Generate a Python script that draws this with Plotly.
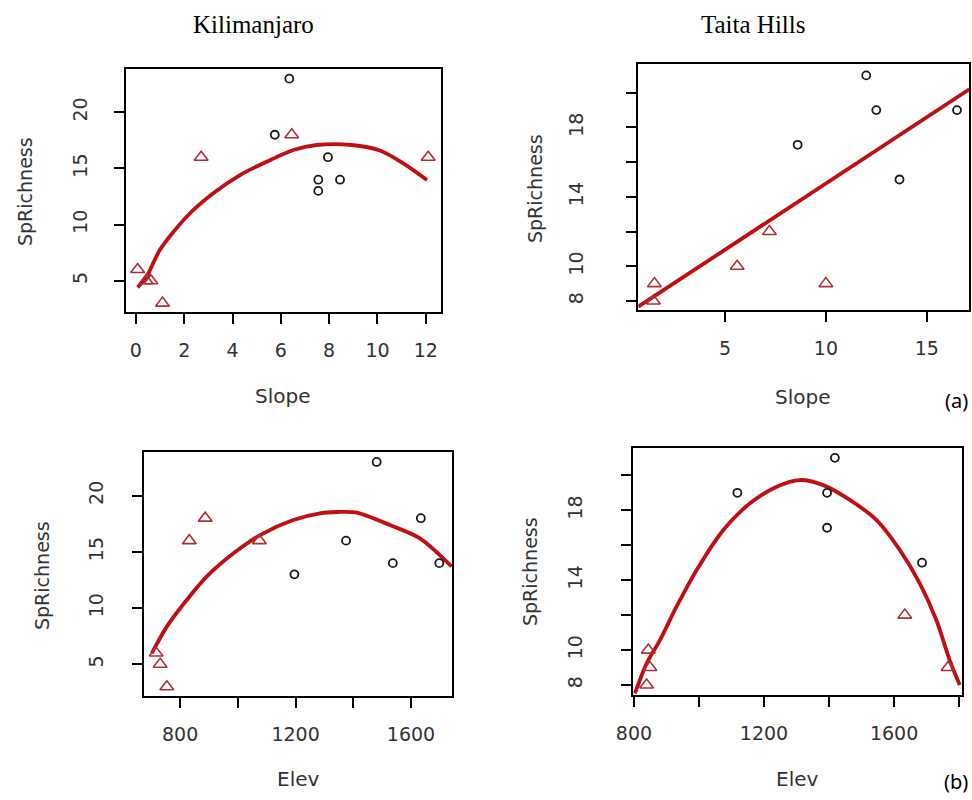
import plotly.graph_objects as go

W, H = 972, 800

# ---------------- data ----------------
# Kilimanjaro – Slope
kili_slope_circ_x = [6.35, 5.75, 7.95, 7.55, 7.55, 8.45]
kili_slope_circ_y = [23, 18, 16, 14, 13, 14]
kili_slope_tri_x = [6.45, 2.7, 0.07, 0.42, 0.62, 1.1, 12.1]
kili_slope_tri_y = [18, 16, 6, 5, 5, 3, 16]
kili_slope_fit_x = [0.07, 0.44, 0.99, 2.1, 3.2, 4.31, 5.41, 6.52, 7.48, 8.93, 10.1, 11.07, 12.05]
kili_slope_fit_y = [4.4, 5.35, 7.73, 10.7, 12.78, 14.41, 15.6, 16.64, 17.09, 17.09, 16.6, 15.45, 13.97]

# Taita Hills – Slope
taita_slope_circ_x = [12.0, 12.5, 16.5, 8.6, 13.65]
taita_slope_circ_y = [21, 19, 19, 17, 15]
taita_slope_tri_x = [7.2, 5.6, 10.0, 1.5, 1.45]
taita_slope_tri_y = [12, 10, 9, 9, 8]
taita_slope_fit_x = [0.7, 17.11]
taita_slope_fit_y = [7.67, 20.2]

# Kilimanjaro – Elev
kili_elev_circ_x = [1196, 1375, 1481, 1537, 1634, 1698]
kili_elev_circ_y = [13, 16, 23, 14, 18, 14]
kili_elev_tri_x = [717, 731, 754, 832, 887, 1075]
kili_elev_tri_y = [6, 5, 3, 16, 18, 16]
kili_elev_fit_x = [702, 754, 823, 892, 985, 1077, 1192, 1285, 1345, 1412, 1527, 1631, 1741]
kili_elev_fit_y = [5.98, 8.35, 10.72, 12.8, 14.87, 16.5, 17.84, 18.43, 18.55, 18.5, 17.39, 16.2, 13.7]

# Taita Hills – Elev
taita_elev_circ_x = [1418, 1118, 1394, 1394, 1686]
taita_elev_circ_y = [21, 19, 19, 17, 15]
taita_elev_tri_x = [1633, 844, 849, 839, 1766]
taita_elev_tri_y = [12, 10, 9, 8, 9]
taita_elev_fit_x = [803, 839, 880, 931, 993, 1075, 1157, 1239, 1310, 1382, 1464, 1546, 1618, 1679, 1730, 1771, 1802]
taita_elev_fit_y = [7.52, 9.24, 10.57, 12.48, 14.58, 16.87, 18.4, 19.35, 19.73, 19.44, 18.59, 17.44, 15.72, 13.82, 11.72, 9.43, 8.0]

# ticks
slope_k_ticks = [0, 2, 4, 6, 8, 10, 12]
slope_k_text = ["0", "2", "4", "6", "8", "10", "12"]
slope_t_ticks = [5, 10, 15]
slope_t_text = ["5", "10", "15"]
elev_k_ticks = [800, 1000, 1200, 1400, 1600]
elev_k_text = ["800", "", "1200", "", "1600"]
elev_t_ticks = [800, 1000, 1200, 1400, 1600, 1800]
elev_t_text = ["800", "", "1200", "", "1600", ""]
rich_k_ticks = [5, 10, 15, 20]
rich_k_text = ["5", "10", "15", "20"]
rich_t_ticks = [8, 10, 12, 14, 16, 18, 20]
rich_t_text = ["8", "10", "", "14", "", "18", ""]

# ---------------- style ----------------
CIRC_COL = "#1a1a1a"
TRI_COL = "#ad3038"
FIT_COL = "#c00f12"
TXT_COL = "#333333"
FONT = "DejaVu Sans"


def px_dom(a, b, total):
    return [a / total, b / total]


def ydom(top, bottom):
    return [1 - bottom / H, 1 - top / H]


panels = [
    dict(xd=px_dom(126, 441, W), yd=ydom(69, 312), xr=[-0.41, 12.63], yr=[2.21, 23.86],
         xt=(slope_k_ticks, slope_k_text), yt=(rich_k_ticks, rich_k_text), ystand=19,
         cx=kili_slope_circ_x, cy=kili_slope_circ_y, tx=kili_slope_tri_x, ty=kili_slope_tri_y,
         fx=kili_slope_fit_x, fy=kili_slope_fit_y, shape="spline"),
    dict(xd=px_dom(638.3, 969.3, W), yd=ydom(64.3, 310), xr=[0.70, 17.11], yr=[7.48, 21.64],
         xt=(slope_t_ticks, slope_t_text), yt=(rich_t_ticks, rich_t_text), ystand=36,
         cx=taita_slope_circ_x, cy=taita_slope_circ_y, tx=taita_slope_tri_x, ty=taita_slope_tri_y,
         fx=taita_slope_fit_x, fy=taita_slope_fit_y, shape="linear"),
    dict(xd=px_dom(144, 452, W), yd=ydom(452.3, 696), xr=[675, 1742], yr=[2.18, 23.86],
         xt=(elev_k_ticks, elev_k_text), yt=(rich_k_ticks, rich_k_text), ystand=21,
         cx=kili_elev_circ_x, cy=kili_elev_circ_y, tx=kili_elev_tri_x, ty=kili_elev_tri_y,
         fx=kili_elev_fit_x, fy=kili_elev_fit_y, shape="spline"),
    dict(xd=px_dom(633.3, 961.7, W), yd=ydom(447.7, 695), xr=[798, 1808], yr=[7.43, 21.58],
         xt=(elev_t_ticks, elev_t_text), yt=(rich_t_ticks, rich_t_text), ystand=32,
         cx=taita_elev_circ_x, cy=taita_elev_circ_y, tx=taita_elev_tri_x, ty=taita_elev_tri_y,
         fx=taita_elev_fit_x, fy=taita_elev_fit_y, shape="spline"),
]

fig = go.Figure()
layout = dict(width=W, height=H, margin=dict(l=0, r=0, t=0, b=0, pad=0), autosize=False,
              paper_bgcolor="white", plot_bgcolor="white", showlegend=False)

for i, p in enumerate(panels, start=1):
    xa = "x" if i == 1 else f"x{i}"
    ya = "y" if i == 1 else f"y{i}"
    fig.add_trace(go.Scatter(x=p["fx"], y=p["fy"], mode="lines", xaxis=xa, yaxis=ya,
                             line=dict(color=FIT_COL, width=3.8, shape=p["shape"], smoothing=0.8)))
    fig.add_trace(go.Scatter(x=p["cx"], y=p["cy"], mode="markers", xaxis=xa, yaxis=ya,
                             marker=dict(symbol="circle-open", size=8, color=CIRC_COL,
                                         line=dict(width=1.8, color=CIRC_COL))))
    fig.add_trace(go.Scatter(x=p["tx"], y=p["ty"], mode="markers", xaxis=xa, yaxis=ya,
                             marker=dict(symbol="triangle-up-open", size=12, color=TRI_COL,
                                         line=dict(width=1.6, color=TRI_COL))))
    common = dict(showgrid=False, zeroline=False, showline=True, mirror=True,
                  linecolor="black", linewidth=2, ticks="outside", ticklen=10,
                  tickwidth=2, tickcolor="black", automargin=False,
                  tickfont=dict(family=FONT, size=19, color=TXT_COL))
    layout["xaxis" if i == 1 else f"xaxis{i}"] = dict(
        domain=p["xd"], range=p["xr"], anchor=ya, tickmode="array",
        tickvals=p["xt"][0], ticktext=p["xt"][1], ticklabelstandoff=10, **common)
    layout["yaxis" if i == 1 else f"yaxis{i}"] = dict(
        domain=p["yd"], range=p["yr"], anchor=xa, tickmode="array",
        tickvals=p["yt"][0], ticktext=p["yt"][1], tickangle=-90,
        ticklabelstandoff=p["ystand"], **common)

fig.update_layout(**layout)

ann = []


def add_text(text, x, y, size, family=FONT, color=TXT_COL, angle=0):
    ann.append(dict(text=text, x=x / W, y=1 - y / H, xref="paper", yref="paper",
                    showarrow=False, xanchor="center", yanchor="middle",
                    textangle=angle, font=dict(family=family, size=size, color=color)))


add_text("Kilimanjaro", 253, 24, 25, family="Liberation Serif", color="black")
add_text("Taita Hills", 753, 24, 25, family="Liberation Serif", color="black")
add_text("SpRichness", 25, 192, 19, angle=-90)
add_text("SpRichness", 535, 189, 19, angle=-90)
add_text("SpRichness", 42, 576, 19, angle=-90)
add_text("SpRichness", 530, 572, 19, angle=-90)
add_text("Slope", 283, 396, 20)
add_text("Slope", 803, 397, 20)
add_text("Elev", 298, 779, 20)
add_text("Elev", 797, 779, 20)
add_text("(a)", 956, 400, 20, family="Noto Sans", color="black")
add_text("(b)", 956, 781, 20, family="Noto Sans", color="black")

fig.update_layout(annotations=ann)
fig.write_html("out.html")
